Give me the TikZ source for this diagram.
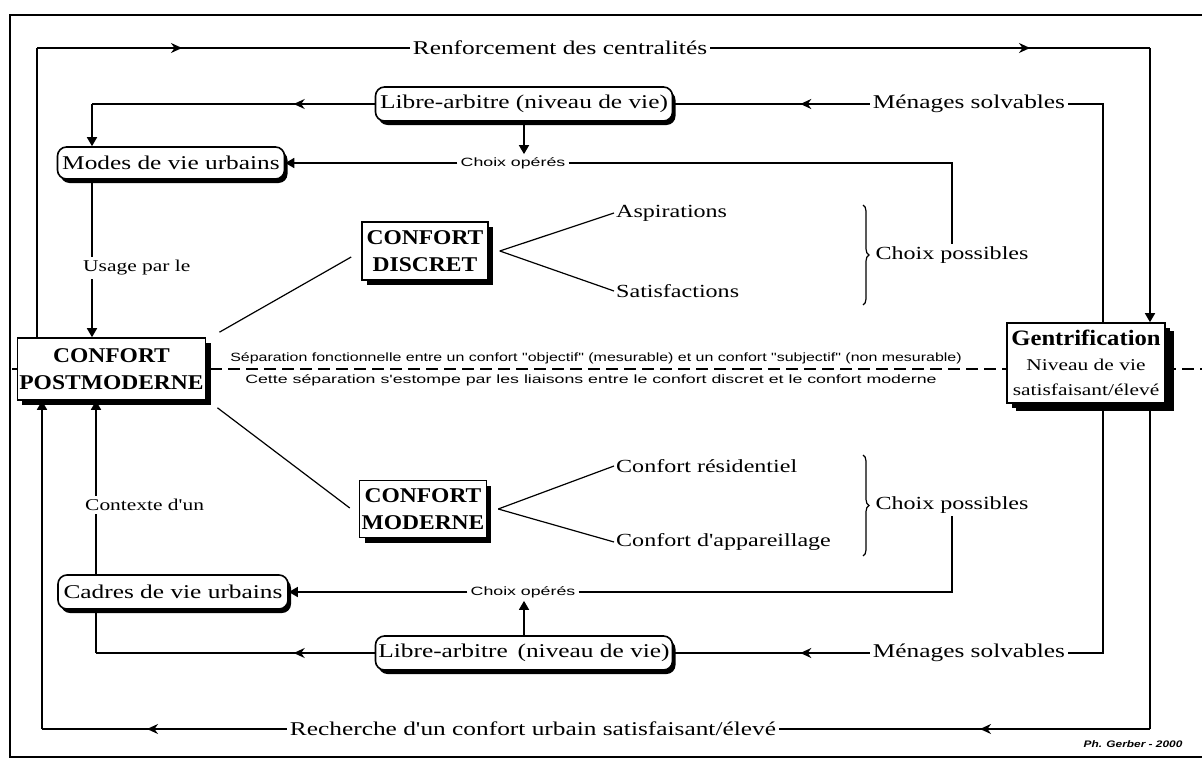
\documentclass[tikz,border=0pt]{standalone}
\usepackage{fontspec}
\setmainfont{Liberation Serif}
\newfontfamily\lbl[FakeStretch=1.3]{Liberation Serif}
\newfontfamily\bx[FakeStretch=1.12]{Liberation Serif}
\newfontfamily\sml[FakeStretch=1.25]{Liberation Sans}
\newfontfamily\smla[FakeStretch=1.33]{Liberation Sans}
\newfontfamily\smlb[FakeStretch=1.48]{Liberation Sans}
\usetikzlibrary{arrows.meta,shadows,decorations.markings,decorations.pathreplacing}
\pgfdeclarelayer{bg}
\pgfdeclarelayer{paper}
\pgfsetlayers{paper,bg,main}
\begin{document}
\begin{tikzpicture}[x=1pt,y=-1pt,
  ln/.style={line width=1.6pt},
  marr/.style={postaction={decorate},decoration={markings,mark=at position #1 with {\arrow{Stealth[length=11pt,width=10pt]}}}},
  endarr/.style={-{Triangle[length=9pt,width=10pt]}},
  lab/.style={font=\lbl\fontsize{19.5}{22}\selectfont,inner sep=3pt},
  mlab/.style={font=\lbl\fontsize{18.5}{22}\selectfont,inner sep=2pt},
  slab/.style={font=\lbl\fontsize{16.5}{20}\selectfont,inner sep=3pt,fill=white},
  tiny/.style={font=\smlb\fontsize{12}{14}\selectfont,inner sep=3pt},
  sepa/.style={font=\smla\fontsize{12}{14}\selectfont,inner sep=1pt},
  sepb/.style={font=\smlb\fontsize{12}{14}\selectfont,inner sep=1pt},
  rbox/.style={draw,line width=1.6pt,rounded corners=9pt,fill=white,inner sep=2pt,
    font=\lbl\fontsize{19.5}{22}\selectfont,
    drop shadow={shadow xshift=3pt,shadow yshift=-4pt,opacity=1,fill=black}},
  sbox/.style={draw,line width=1.6pt,fill=white,align=center,inner sep=2pt,
    font=\bx\bfseries\fontsize{21}{27}\selectfont,
    drop shadow={shadow xshift=5pt,shadow yshift=-5pt,opacity=1,fill=black}}
]
\useasboundingbox (0,0) rectangle (1202,760);
\begin{pgfonlayer}{paper}
\fill[white] (0,0) rectangle (1202,760);
\draw[line width=2.5pt] (1210,15) -- (10,15) -- (10,757) -- (1210,757);
\end{pgfonlayer}

% boxes
\node[sbox,minimum width=183pt,minimum height=62pt] (pm) at (111.5,369) {CONFORT\\POSTMODERNE};
\node[sbox,minimum width=158pt,minimum height=80pt,font=\bx\bfseries\fontsize{22}{25}\selectfont,
  drop shadow={shadow xshift=9pt,shadow yshift=-8pt,opacity=1,fill=black}] (gen) at (1086,363)
  {Gentrification\\{\lbl\mdseries\fontsize{16.5}{25}\selectfont Niveau de vie}\\{\lbl\mdseries\fontsize{16.5}{25}\selectfont satisfaisant/élevé}};
\node[sbox,minimum width=126pt,minimum height=58pt] (disc) at (425,251) {CONFORT\\DISCRET};
\node[sbox,minimum width=124pt,minimum height=57pt] (mod) at (423,509) {CONFORT\\MODERNE};
\node[rbox,minimum width=297pt,minimum height=34pt] (libt) at (524,104) {Libre-arbitre (niveau de vie)};
\node[rbox,minimum width=297pt,minimum height=34pt] (libb) at (524,653) {Libre-arbitre\enspace(niveau de vie)};
\node[rbox,minimum width=227pt,minimum height=32pt] (modes) at (171,163) {Modes de vie urbains};
\node[rbox,minimum width=230pt,minimum height=34pt] (cadres) at (173,592) {Cadres de vie urbains};

% labels
\node[lab] (renf) at (560,48) {Renforcement des centralités};
\node[lab] (rech) at (533,729) {Recherche d'un confort urbain satisfaisant/élevé};
\node[lab] (menT) at (969,104) {Ménages solvables};
\node[lab] (menB) at (969,653) {Ménages solvables};
\node[tiny] (choT) at (513,163) {Choix opérés};
\node[tiny] (choB) at (523,592) {Choix opérés};
\node[mlab] (cp1) at (952,255) {Choix possibles};
\node[mlab] (cp2) at (952,505) {Choix possibles};
\node[mlab,anchor=west] (aspi) at (614,213) {Aspirations};
\node[mlab,anchor=west] (satis) at (614,291) {Satisfactions};
\node[mlab,anchor=west] (resid) at (614,466) {Confort résidentiel};
\node[mlab,anchor=west] (appar) at (614,542) {Confort d'appareillage};
\node[slab,anchor=west] (usage) at (80,268) {Usage par le};
\node[slab,anchor=west] (ctx) at (82,505) {Contexte d'un};
\node[sepa] (sep1) at (596,358) {Séparation fonctionnelle entre un confort "objectif" (mesurable) et un confort "subjectif" (non mesurable)};
\node[sepb] (sep2) at (591,380) {Cette séparation s'estompe par les liaisons entre le confort discret et le confort moderne};
\node[font=\sml\bfseries\itshape\fontsize{9.5}{11}\selectfont,inner sep=0pt] (credit) at (1133,744) {Ph. Gerber - 2000};

\coordinate (tl) at (37,48);
\coordinate (tr) at (1150,48);
\coordinate (mtl) at (92,104);
\coordinate (mtr) at (1103,104);
\coordinate (ct) at (952,163);
\coordinate (cb) at (952,592);
\coordinate (mbl) at (96,653);
\coordinate (mbr) at (1103,653);
\coordinate (bl) at (42,729);
\coordinate (br) at (1150,729);
\coordinate (dl) at (12,369);
\coordinate (dr) at (1202,369);

\begin{pgfonlayer}{bg}
\draw[line width=1.2pt,dash pattern=on 12pt off 6pt] (dl) -- (dr);
% top loop
\draw[ln] (pm.north -| tl) -- (tl);
\draw[ln,marr=145pt] (tl) -- (renf.west);
\draw[ln,marr=-120pt] (renf.east) -- (tr);
\draw[ln,endarr] (tr) -- (gen.north -| tr);
% top libre-arbitre
\draw[ln,marr=-127pt] (menT.west) -- (libt.east);
\draw[ln] (menT.east) -- (mtr) -- (gen.north -| mtr);
\draw[ln,marr=81pt] (libt.west) -- (mtl);
\draw[ln,endarr] (mtl) -- (modes.north -| mtl);
\draw[ln,endarr] (libt.south) -- (libt.south |- choT.north);
\draw[ln,endarr] (choT.west) -- (modes.east);
\draw[ln] (choT.east) -- (ct) -- (ct |- cp1.north);
\draw[ln,endarr] (modes.south -| mtl) -- (pm.north -| mtl);
% bottom libre-arbitre
\draw[ln,marr=-127pt] (menB.west) -- (libb.east);
\draw[ln] (menB.east) -- (mbr) -- (gen.south -| mbr);
\draw[ln,marr=81pt] (libb.west) -- (mbl);
\draw[ln] (mbl) -- (cadres.south -| mbl);
\draw[ln,endarr] (libb.north) -- (libb.north |- choB.south);
\draw[ln,endarr] (choB.west) -- (cadres.east);
\draw[ln] (choB.east) -- (cb) -- (cb |- cp2.south);
\draw[ln,endarr] (cadres.north -| mbl) -- (pm.south -| mbl);
% bottom loop
\draw[ln] (gen.south -| br) -- (br);
\draw[ln,marr=170pt] (br) -- (rech.east);
\draw[ln,marr=-105pt] (rech.west) -- (bl);
\draw[ln,endarr] (bl) -- (pm.south -| bl);
% confort links
\draw[line width=1.2pt] ([shift={(13,-5)}]pm.north east) -- ([shift={(-10,6)}]disc.west);
\draw[line width=1.2pt] ([shift={(11,7)}]pm.south east) -- ([shift={(-9,-1)}]mod.west);
\draw[line width=1.2pt] ([xshift=11pt]disc.east) -- (aspi.west);
\draw[line width=1.2pt] ([xshift=11pt]disc.east) -- (satis.west);
\draw[line width=1.2pt] ([xshift=11pt]mod.east) -- (resid.west);
\draw[line width=1.2pt] ([xshift=11pt]mod.east) -- (appar.west);
% braces
\draw[line width=1.2pt,decorate,decoration={brace,amplitude=6pt}] (863,205) -- (863,305);
\draw[line width=1.2pt,decorate,decoration={brace,amplitude=6pt}] (863,455) -- (863,556);
\end{pgfonlayer}
\end{tikzpicture}
\end{document}
